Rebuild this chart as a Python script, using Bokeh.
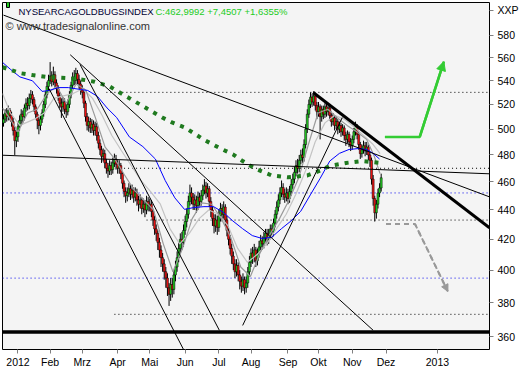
from bokeh.plotting import figure
from bokeh.models import Range1d, FixedTicker, Label, Arrow, NormalHead, ColumnDataSource
from bokeh.embed import file_html
from bokeh.resources import INLINE

# ---------------- data (bar index 0 = first trading day of 2012) ----------------
first_bar = -9
first_open = 505.0
close = [508, 513, 510, 515, 511, 506, 499, 491, 494,
         502, 507, 512, 510, 517, 521, 519, 525, 528, 524,
         518, 512, 507, 503, 508, 513, 520, 528, 535, 540,
         544, 539, 545, 538, 533, 527, 521, 518, 522, 516,
         514, 520, 528, 536, 543, 540, 546, 541, 537, 532,
         530, 521, 510, 503, 506, 501, 504, 499, 502, 495,
         489, 484, 479, 481, 474, 470, 468, 472, 469, 474,
         477, 473, 470, 472, 466, 459, 453, 450, 452, 455,
         451, 454, 449, 452, 447, 444, 447, 441, 444, 440,
         446, 443, 444, 439, 433, 427, 424, 418, 413, 408,
         404, 399, 395, 389, 385, 391, 388, 397, 402, 408,
         414, 420, 418, 426, 432, 437, 446, 452, 449, 444,
         447, 443, 449, 446, 450, 454, 457, 452, 455, 446,
         440, 434, 429, 433, 428, 436, 441, 437, 442, 433,
         426, 420, 414, 409, 404, 399, 403, 397, 393, 390,
         394, 389, 392, 399, 405, 411, 408, 413, 406, 411,
         415, 419, 417, 421, 424, 420, 423, 427, 425, 431,
         437, 442, 447, 452, 456, 451, 449, 452, 448, 453,
         458, 462, 467, 472, 470, 476, 480, 478, 488, 500,
         512, 520, 526, 522, 527, 519, 514, 518, 510, 516,
         512, 518, 514, 517, 511, 506, 509, 503, 506, 500,
         503, 498, 501, 495, 492, 496, 490, 487, 492, 498,
         502, 496, 488, 481, 484, 487, 483, 486, 480, 476,
         462, 448, 438, 444, 452, 455.55, 462.9992]
high = [512, 516, 517, 519, 517, 514, 509, 502, 498,
        506, 511, 516, 515, 520, 525, 526, 529, 532, 531,
        526, 520, 514, 510, 511, 516, 523, 531, 539, 545,
        556, 548, 552, 548, 541, 536, 530, 525, 526, 525,
        520, 524, 531, 539, 547, 549, 551, 549, 545, 540,
        536, 533, 523, 513, 510, 509, 508, 507, 506, 505,
        498, 492, 487, 485, 484, 477, 474, 476, 475, 478,
        481, 480, 476, 476, 474, 468, 461, 456, 456, 459,
        458, 458, 456, 456, 455, 450, 451, 449, 448, 447,
        450, 449, 448, 447, 441, 436, 430, 426, 421, 416,
        411, 407, 402, 398, 392, 395, 395, 400, 406, 412,
        418, 424, 425, 430, 436, 441, 450, 458, 456, 452,
        451, 450, 453, 452, 454, 458, 462, 460, 459, 457,
        449, 443, 437, 437, 436, 440, 445, 444, 446, 444,
        436, 429, 423, 417, 412, 407, 407, 405, 400, 396,
        398, 396, 396, 402, 409, 414, 415, 417, 415, 414,
        419, 423, 422, 425, 427, 427, 427, 430, 430, 434,
        440, 446, 451, 456, 461, 459, 455, 456, 455, 457,
        462, 466, 471, 476, 477, 480, 484, 485, 492, 504,
        516, 524, 530, 529, 531, 529, 522, 522, 520, 519,
        519, 521, 521, 521, 519, 514, 513, 511, 510, 508,
        506, 505, 504, 503, 498, 499, 498, 493, 495, 501,
        506, 504, 498, 490, 488, 491, 490, 490, 488, 482,
        478, 465, 450, 447, 455, 459, 466]
low = [502, 505, 506, 507, 507, 502, 495, 480, 486,
       490, 499, 504, 505, 507, 514, 515, 516, 521, 520,
       514, 508, 500, 496, 499, 505, 510, 517, 525, 531,
       537, 535, 536, 534, 529, 523, 517, 509, 514, 512,
       509, 511, 517, 525, 533, 536, 537, 537, 533, 528,
       525, 517, 506, 499, 498, 497, 497, 495, 495, 491,
       485, 480, 474, 475, 470, 466, 463, 465, 465, 466,
       471, 469, 466, 466, 462, 455, 449, 445, 446, 449,
       447, 448, 445, 446, 443, 439, 441, 437, 438, 435,
       437, 439, 439, 435, 429, 423, 419, 413, 408, 402,
       399, 394, 389, 384, 378, 381, 383, 385, 393, 399,
       405, 411, 413, 415, 423, 428, 434, 443, 444, 440,
       440, 438, 440, 442, 443, 447, 451, 448, 449, 442,
       435, 429, 424, 425, 423, 425, 432, 432, 434, 429,
       422, 416, 410, 404, 400, 395, 396, 393, 388, 386,
       387, 385, 386, 389, 396, 402, 404, 405, 402, 403,
       408, 412, 413, 414, 418, 416, 417, 420, 421, 422,
       428, 434, 439, 444, 449, 447, 445, 446, 444, 445,
       450, 455, 459, 464, 466, 467, 473, 474, 475, 485,
       497, 509, 517, 518, 519, 515, 508, 510, 492, 506,
       508, 509, 510, 511, 507, 502, 503, 499, 500, 496,
       497, 494, 495, 491, 487, 489, 486, 483, 484, 489,
       495, 492, 484, 477, 478, 481, 479, 480, 476, 471,
       458, 443, 432, 434, 441, 449, 453]

# moving averages (bar index, value)
ma200_x = [-9.6, 1.2, 9, 17.5, 27.1, 37.3, 47.6, 57.2, 69.3, 79.5, 89.8, 95.8, 103.6, 115.7,
           125.9, 133.7, 139.8, 147.6, 157.8, 168.1, 180.1, 188, 194, 204.2, 213.9, 219.9, 225.3]
ma200_y = [551.5, 546.4, 544.7, 543.1, 542.3, 541.4, 539.0, 534.8, 525.1, 517.2, 509.3, 505.4, 501.5, 491.7,
           485.0, 480.5, 475.4, 469.7, 464.7, 463.3, 464.7, 468.2, 471.8, 474.0, 475.4, 474.7, 474.0]
ma50_x = [-9.6, -4.8, 1.2, 9, 15, 19.3, 25.3, 31.3, 39, 43.4, 49.4, 55.4, 61.4, 69.3, 77.7, 85.5, 91.6,
          97.6, 103.6, 109.6, 115.7, 121.7, 127.7, 133.7, 139.8, 145.8, 151.8, 157.8, 163.9, 169.9,
          175.9, 181.9, 188, 194, 200, 206, 212, 217, 221, 225]
ma50_y = [555.7, 549.8, 543.1, 539.8, 530.8, 531.6, 534.0, 534.0, 532.4, 531.6, 526.7, 517.1, 509.3, 493.9,
          486.4, 476.9, 461.0, 448.5, 440.4, 441.7, 442.3, 442.3, 438.4, 432.4, 427.1, 422.5, 420.6, 421.3,
          427.1, 432.4, 439.0, 450.6, 462.5, 475.4, 481.2, 484.2, 484.9, 484.2, 481.2, 476.9]
ma20_x = [-9.6, -4.8, 1.2, 10.2, 16.3, 22.3, 28.3, 34.3, 40.4, 46.4, 52.4, 58.4, 64.5, 70.5, 76.5, 82.5,
          88.6, 94.6, 100.6, 106.6, 112.7, 118.7, 124.7, 130.7, 136.7, 142.8, 148.8, 154.8, 160.8, 166.9,
          172.9, 178.9, 184.9, 191, 197, 203, 209, 215, 221, 225.3]
ma20_y = [529, 513, 503, 508, 513, 525, 527, 529, 533, 525, 511, 495, 483, 472, 461, 453,
          444, 427, 417, 424, 434, 440, 437, 429, 414, 405, 410, 417, 427, 437,
          451, 468, 490, 505, 511, 508, 502, 495, 488, 481]
ma10_x = [-9.6, -4.8, 0, 6, 12, 18.1, 24.1, 30.1, 36.1, 42.2, 48.2, 54.2, 60.2, 66.3, 72.3, 78.3, 84.3,
          90.4, 96.4, 102.4, 108.4, 114.5, 120.5, 126.5, 132.5, 138.6, 144.6, 150.6, 156.6, 162.7, 168.7,
          174.7, 180.7, 186.7, 192.8, 198.8, 204.8, 210.8, 216.9, 221.7, 225.3]
ma10_y = [517, 508, 498, 513, 516, 529, 535, 521, 537, 532, 509, 486, 477, 465, 454, 447, 440,
          417, 399, 414, 434, 445, 444, 434, 421, 402, 396, 411, 423, 434, 447,
          463, 488, 513, 516, 509, 503, 498, 492, 479, 466]

# trend lines (start bar, start value, end bar, end value)
trend_x0 = [-9.0, -9.6, 19.3, 38.6, 32.5, 139.8]
trend_y0 = [598.9, 479.8, 533.2, 554.0, 562.5, 366.5]
trend_x1 = [293.4, 293.4, 103.0, 125.3, 221.0, 201.8]
trend_y1 = [449.2, 465.9, 352.8, 363.7, 363.7, 509.3]
thick_x0, thick_y0, thick_x1, thick_y1 = 183.7, 529.9, 293.4, 427.8
support_level = 362.7

# dotted horizontal levels
black_levels = [530, 470, 433, 373]
black_level_start = [55, 66, 80, 60]
blue_levels = [452, 395]
blue_level_start = [-9.6, -9.6]

# scenario arrows
up_x = [228.3, 250, 265]
up_y = [493.9, 493.9, 556.5]
down_x = [229, 247, 267.5]
down_y = [430.4, 430.4, 386.7]

y_ticks = [360, 380, 400, 420, 440, 460, 480, 500, 520, 540, 560, 580]
unit_pos = 603.5
unit_lbl = "XXP"
month_idx = [0, 20, 40, 62, 82, 104, 125, 145, 168, 187, 208, 229, 261]
month_lbl = ["2012", "Feb", "Mrz", "Apr", "Mai", "Jun", "Jul", "Aug", "Sep", "Okt", "Nov", "Dez", "2013"]

X0, X1 = -9.64, 293.4
Y0, Y1 = 352.8, 611.0

# ---------------- figure ----------------
p = figure(width=521, height=370, output_backend="svg", toolbar_location=None,
           y_axis_type="log", y_axis_location="right",
           x_range=Range1d(X0, X1), y_range=Range1d(Y0, Y1),
           min_border_left=2, min_border_top=2, min_border_right=2, min_border_bottom=2)
p.background_fill_color = "#f4f4f4"
p.border_fill_color = "white"
p.outline_line_color = "black"
p.outline_line_width = 1
p.xgrid.visible = False
p.ygrid.visible = False

FONT = "Liberation Sans"
for ax in (p.xaxis[0], p.yaxis[0]):
    ax.axis_line_color = None
    ax.major_tick_line_color = "#808080"
    ax.minor_tick_line_color = None
    ax.major_tick_in = 0
    ax.major_tick_out = 4
    ax.major_label_text_font = FONT
    ax.major_label_text_font_size = "10.5px"
    ax.major_label_text_color = "#000000"

p.yaxis.ticker = FixedTicker(ticks=y_ticks + [unit_pos])
labels_y = {v: str(v) for v in y_ticks}
labels_y[unit_pos] = unit_lbl
p.yaxis.major_label_overrides = labels_y
p.yaxis.major_label_standoff = 4
p.xaxis.ticker = FixedTicker(ticks=month_idx)
p.xaxis.major_label_overrides = {i: l for i, l in zip(month_idx, month_lbl)}
p.xaxis.major_label_text_align = "left"
p.xaxis.major_label_standoff = 2

# dotted levels
for lv, st in zip(black_levels, black_level_start):
    p.line([st, X1], [lv, lv], line_color="black", line_width=1, line_dash="1 3")
for lv, st in zip(blue_levels, blue_level_start):
    p.line([st, X1], [lv, lv], line_color="#0000ee", line_width=1, line_dash="1 3")

# candles
bar_x = list(range(first_bar, first_bar + len(close)))
open_ = [first_open] + close[:-1]
src = ColumnDataSource(dict(
    x=bar_x, high=high, low=low,
    top=[max(o, c) for o, c in zip(open_, close)],
    bottom=[min(o, c) for o, c in zip(open_, close)],
    color=["#22cc22" if c >= o else "#ee1111" for o, c in zip(open_, close)]))
p.segment(x0="x", y0="high", x1="x", y1="low", source=src, line_color="black", line_width=1)
p.vbar(x="x", width=1.25, top="top", bottom="bottom", fill_color="color",
       line_color="black", line_width=0.5, source=src)

# moving averages
p.line(ma20_x, ma20_y, line_color="#c4c4c4", line_width=1.2)
p.line(ma10_x, ma10_y, line_color="#9a9a9a", line_width=1.2)
p.line(ma50_x, ma50_y, line_color="#0000ff", line_width=1)
p.line(ma200_x, ma200_y, line_color="#1f7a1f", line_width=4, line_dash="4 6")

# trend lines
p.segment(x0=trend_x0, y0=trend_y0, x1=trend_x1, y1=trend_y1, line_color="black", line_width=1)
p.segment(x0=[thick_x0], y0=[thick_y0], x1=[thick_x1], y1=[thick_y1], line_color="black", line_width=3)
p.line([X0, X1], [support_level, support_level], line_color="black", line_width=3.5)

# scenario arrows
p.line(up_x, up_y, line_color="#33cc33", line_width=2.5)
p.add_layout(Arrow(end=NormalHead(size=9, fill_color="#33cc33", line_color="#33cc33"),
                   x_start=up_x[-2], y_start=up_y[-2], x_end=up_x[-1], y_end=up_y[-1],
                   line_color="#33cc33", line_width=2.5))
p.line(down_x, down_y, line_color="#999999", line_width=2, line_dash="5 4")
p.add_layout(Arrow(end=NormalHead(size=7, fill_color="#999999", line_color="#999999"),
                   x_start=down_x[-2], y_start=down_y[-2], x_end=down_x[-1], y_end=down_y[-1],
                   line_color="#999999", line_width=2, line_dash="5 4"))

# header texts
p.add_layout(Label(x=X0, y=Y1, x_offset=4, y_offset=-5, text="\u2002",
                   text_font=FONT, text_font_size="6px", background_fill_color="#22cc22",
                   border_line_color="black", border_line_width=1))
p.add_layout(Label(x=X0, y=Y1, x_offset=16, y_offset=-3, text="NYSEARCAGOLDBUGSINDEX",
                   text_font=FONT, text_font_size="9.5px", text_color="#000033", text_baseline="top"))
p.add_layout(Label(x=X0, y=Y1, x_offset=153, y_offset=-3, text="C:462,9992 +7,4507 +1,6355%",
                   text_font=FONT, text_font_size="9.5px", text_color="#22cc22", text_baseline="top"))
p.add_layout(Label(x=X0, y=Y1, x_offset=3, y_offset=-17, text="\u00a9 www.tradesignalonline.com",
                   text_font=FONT, text_font_size="11px", text_color="#333333", text_baseline="top"))

open("out.html", "w").write(file_html(p, INLINE))
